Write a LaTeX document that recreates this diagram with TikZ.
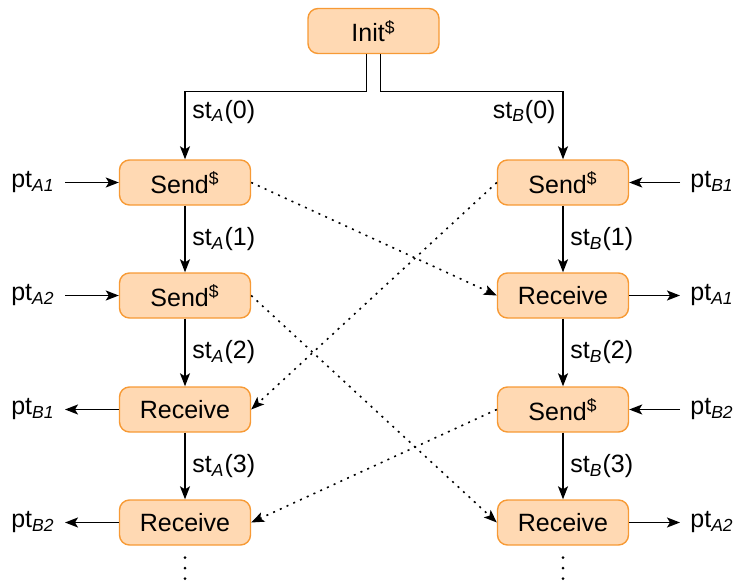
\documentclass[tikz,border=0pt]{standalone}
\usepackage{fontspec}
\setmainfont{Liberation Sans}
\usetikzlibrary{arrows.meta}
\definecolor{boxfill}{HTML}{FFD9B3}
\definecolor{boxline}{HTML}{F79A35}
\newcommand{\subit}[1]{\textsubscript{\textit{#1}}}
\newcommand{\rnd}{\textsuperscript{\$}}
\begin{document}
\begin{tikzpicture}[
        x=50pt, y=50pt, % 1 unidad = 100 px del original
        font=\fontsize{12.5}{15}\selectfont,
        proc/.style={draw=boxline, fill=boxfill, line width=0.7pt,
            rounded corners=5pt, minimum width=65.5pt, minimum height=22.5pt}, % Cajas
        flow/.style={-{Stealth[length=6.5pt,width=5pt,inset=1.5pt]}, line width=0.8pt}, % Flechas
        msg/.style={flow, dash pattern=on 1pt off 2.7pt}, % Mensajes
        etc/.style={line width=1.5pt, line cap=round, dash pattern=on 0pt off 5.25pt}, % Puntos suspensivos
        ptlabel/.style={inner sep=5pt} % Etiquetas laterales
    ]
        \useasboundingbox (0,0) rectangle (7.38,5.80);

        % --- Cajas ---
        \node[proc] (init) at (3.735,5.49) {Init\rnd};
        \node[proc] (a1) at (1.85,3.975) {Send\rnd};
        \node[proc] (a2) at (1.85,2.845) {Send\rnd};
        \node[proc] (a3) at (1.85,1.705) {Receive};
        \node[proc] (a4) at (1.85,0.575) {Receive};
        \node[proc] (b1) at (5.63,3.975) {Send\rnd};
        \node[proc] (b2) at (5.63,2.845) {Receive};
        \node[proc] (b3) at (5.63,1.705) {Send\rnd};
        \node[proc] (b4) at (5.63,0.575) {Receive};
        \coordinate (a5) at (1.85,0);
        \coordinate (b5) at (5.63,0);

        % --- Etiquetas laterales ---
        \node[ptlabel, anchor=east] (pa1) at (0.65,3.975) {pt\subit{A1}};
        \node[ptlabel, anchor=east] (pa2) at (0.65,2.845) {pt\subit{A2}};
        \node[ptlabel, anchor=east] (pa3) at (0.65,1.705) {pt\subit{B1}};
        \node[ptlabel, anchor=east] (pa4) at (0.65,0.575) {pt\subit{B2}};
        \node[ptlabel, anchor=west] (pb1) at (6.80,3.975) {pt\subit{B1}};
        \node[ptlabel, anchor=west] (pb2) at (6.80,2.845) {pt\subit{A1}};
        \node[ptlabel, anchor=west] (pb3) at (6.80,1.705) {pt\subit{B2}};
        \node[ptlabel, anchor=west] (pb4) at (6.80,0.575) {pt\subit{A2}};

        % --- Flechas laterales ---
        \draw[flow] (pa1) -- (a1);
        \draw[flow] (pa2) -- (a2);
        \draw[flow] (a3) -- (pa3);
        \draw[flow] (a4) -- (pa4);
        \draw[flow] (pb1) -- (b1);
        \draw[flow] (b2) -- (pb2);
        \draw[flow] (pb3) -- (b3);
        \draw[flow] (b4) -- (pb4);

        % --- Estados ---
        \draw[flow] ([xshift=-3.5pt]init.south) |- ([yshift=34pt]a1.north)
            -- node[right, pos=0.3] {st\subit{A}(0)} (a1.north);
        \draw[flow] ([xshift=3.5pt]init.south) |- ([yshift=34pt]b1.north)
            -- node[left, pos=0.3] {st\subit{B}(0)} (b1.north);
        \draw[flow] (a1) -- node[right] {st\subit{A}(1)} (a2);
        \draw[flow] (a2) -- node[right] {st\subit{A}(2)} (a3);
        \draw[flow] (a3) -- node[right] {st\subit{A}(3)} (a4);
        \draw[flow] (b1) -- node[right] {st\subit{B}(1)} (b2);
        \draw[flow] (b2) -- node[right] {st\subit{B}(2)} (b3);
        \draw[flow] (b3) -- node[right] {st\subit{B}(3)} (b4);

        % --- Continuacion ---
        \draw[etc] ([yshift=-6pt]a4.south) -- (a5);
        \draw[etc] ([yshift=-6pt]b4.south) -- (b5);

        % --- Mensajes cruzados ---
        \draw[msg] (a1.east) -- (b2.west);
        \draw[msg] (b1.west) -- (a3.east);
        \draw[msg] (a2.east) -- (b4.west);
        \draw[msg] (b3.west) -- (a4.east);
    \end{tikzpicture}
\end{document}
